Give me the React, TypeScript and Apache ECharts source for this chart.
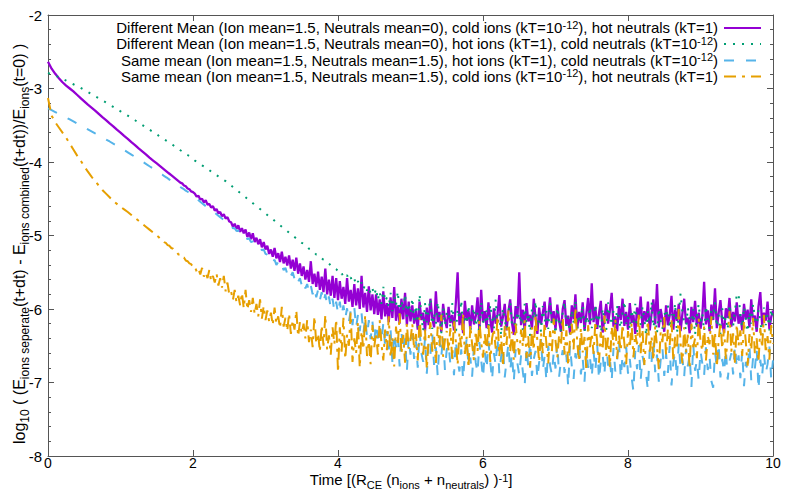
import React, { useEffect, useRef } from "react";
import * as echarts from "echarts";

// ---- sampling of the stored values ----
const HEAD_STEP = 0.05; // x = 0 .. 1.5
const TAIL_START = 1.5;
const TAIL_STEP = 0.025; // x = 1.525 .. 10

const xTicks = [0, 2, 4, 6, 8, 10];
const yTicks = [-8, -7, -6, -5, -4, -3, -2];

const seriesNames = [
  "Different Mean (Ion mean=1.5, Neutrals mean=0), cold ions (kT=10^-12), hot neutrals (kT=1)",
  "Different Mean (Ion mean=1.5, Neutrals mean=0), hot ions (kT=1), cold neutrals (kT=10^-12)",
  "Same mean (Ion mean=1.5, Neutrals mean=1.5), hot ions (kT=1), cold neutrals (kT=10^-12)",
  "Same mean (Ion mean=1.5, Neutrals mean=1.5), cold ions (kT=10^-12), hot neutrals (kT=1)",
];

// Different mean, cold ions / hot neutrals (purple)
const purpleHead = [
  -2.635, -2.73, -2.8, -2.86, -2.915, -2.96, -3.0, -3.04, -3.085, -3.13,
  -3.175, -3.22, -3.26, -3.3, -3.345, -3.39, -3.43, -3.475, -3.515, -3.56,
  -3.6, -3.645, -3.685, -3.73, -3.77, -3.815, -3.855, -3.895, -3.94, -3.98,
  -4.02,
];
const purpleTail = [
  -4.04, -4.06, -4.08, -4.1, -4.12, -4.14, -4.16, -4.18, -4.2, -4.22, -4.24, -4.26, -4.28, -4.29, -4.32, -4.33, -4.36, -4.37, -4.4, -4.41,
  -4.43, -4.47, -4.46, -4.51, -4.5, -4.55, -4.52, -4.58, -4.57, -4.62, -4.6, -4.66, -4.64, -4.7, -4.68, -4.74, -4.71, -4.77, -4.75, -4.81,
  -4.82, -4.88, -4.84, -4.91, -4.86, -4.95, -4.9, -4.97, -4.92, -5.02, -4.96, -5.05, -4.97, -5.09, -5.03, -5.12, -5.05, -5.16, -5.09, -5.19,
  -5.14, -5.25, -5.19, -5.29, -5.17, -5.31, -5.24, -5.36, -5.22, -5.38, -5.29, -5.41, -5.27, -5.45, -5.33, -5.48, -5.3, -5.52, -5.38, -5.55,
  -5.42, -5.6, -5.47, -5.63, -5.35, -5.66, -5.52, -5.7, -5.49, -5.74, -5.56, -5.77, -5.45, -5.8, -5.6, -5.82, -5.55, -5.85, -5.58, -5.88,
  -5.62, -5.86, -5.7, -5.93, -5.58, -5.9, -5.74, -5.97, -5.66, -5.95, -5.72, -6.0, -5.55, -5.98, -5.78, -6.04, -5.69, -6.02, -5.8, -6.07,
  -5.8, -6.08, -5.87, -6.14, -5.76, -6.1, -5.92, -6.18, -5.84, -6.12, -5.7, -6.16, -5.95, -6.2, -5.86, -6.14, -5.78, -6.22, -5.9, -6.17,
  -5.95, -6.2, -6.02, -6.28, -5.9, -6.15, -6.05, -6.3, -5.98, -6.22, -5.86, -6.12, -6.25, -5.76, -6.18, -6.04, -6.31, -5.93, -6.14, -6.26,
  -5.97, -6.19, -6.08, -6.29, -5.92, -5.5, -6.22, -6.05, -6.33, -5.89, -6.16, -6.02, -6.27, -5.95, -6.21, -6.1, -5.84, -6.3, -5.74, -6.18,
  -6.03, -6.26, -5.91, -6.14, -6.32, -5.99, -6.2, -6.07, -5.81, -6.24, -6.11, -5.93, -6.29, -6.04, -5.87, -6.19, -6.35, -5.96, -6.13, -5.5,
  -6.22, -6.01, -6.3, -5.92, -6.17, -6.08, -6.27, -5.86, -6.12, -6.34, -5.98, -6.21, -6.05, -5.9, -6.25, -6.11, -5.84, -6.18, -6.03, -6.28,
  -5.94, -6.16, -6.31, -6.0, -5.88, -6.23, -6.09, -6.33, -5.95, -6.14, -5.8, -6.26, -6.04, -6.19, -5.91, -6.29, -6.07, -5.85, -6.21, -5.65,
  -6.18, -5.97, -6.27, -6.06, -5.89, -6.32, -6.12, -5.93, -6.2, -6.02, -5.78, -6.24, -6.1, -6.3, -5.96, -6.15, -5.86, -6.23, -6.04, -6.28,
  -5.92, -6.19, -6.08, -6.34, -5.98, -6.13, -5.83, -6.26, -6.03, -6.17, -5.9, -6.29, -6.06, -5.87, -6.21, -5.66, -6.25, -6.0, -6.14, -6.31,
  -5.95, -6.22, -6.09, -5.82, -6.28, -6.01, -6.16, -5.93, -6.3, -6.07, -5.86, -6.2, -6.12, -6.33, -5.97, -6.18, -5.89, -6.24, -6.05, -6.27,
  -6.1, -5.63, -6.21, -6.02, -6.3, -5.94, -6.15, -5.72, -6.26, -6.06, -5.88, -6.19, -6.32, -5.99, -6.12, -5.85, -6.24, -6.04, -6.17, -5.91,
  -6.2, -6.07, -6.29, -5.93, -6.14, -6.01, -6.25, -5.87, -6.18, -6.09, -6.31, -5.96, -5.77, -6.22, -6.05, -6.16, -5.9, -6.27, -6.11, -6.02,
];

// Different mean, hot ions / cold neutrals (green)
const greenHead = [
  -2.79, -2.805, -2.825, -2.845, -2.87, -2.892, -2.917, -2.942, -2.967, -2.992,
  -3.02, -3.048, -3.077, -3.105, -3.134, -3.163, -3.19, -3.22, -3.25, -3.28,
  -3.31, -3.34, -3.37, -3.4, -3.432, -3.464, -3.496, -3.528, -3.56, -3.592,
  -3.624,
];
const greenTail = [
  -3.64, -3.655, -3.67, -3.69, -3.705, -3.72, -3.74, -3.755, -3.77, -3.79, -3.805, -3.82, -3.84, -3.855, -3.87, -3.89, -3.905, -3.92, -3.94, -3.96,
  -3.98, -3.995, -4.01, -4.03, -4.045, -4.06, -4.08, -4.095, -4.11, -4.13, -4.145, -4.16, -4.18, -4.195, -4.21, -4.23, -4.245, -4.26, -4.28, -4.3,
  -4.32, -4.34, -4.36, -4.38, -4.4, -4.42, -4.44, -4.46, -4.48, -4.5, -4.52, -4.54, -4.56, -4.58, -4.6, -4.62, -4.64, -4.66, -4.68, -4.7,
  -4.72, -4.74, -4.76, -4.78, -4.8, -4.82, -4.84, -4.86, -4.88, -4.9, -4.92, -4.94, -4.96, -4.98, -5.0, -5.02, -5.04, -5.06, -5.08, -5.1,
  -5.11, -5.14, -5.15, -5.18, -5.19, -5.21, -5.23, -5.26, -5.26, -5.29, -5.31, -5.33, -5.34, -5.37, -5.38, -5.41, -5.42, -5.45, -5.46, -5.48,
  -5.47, -5.53, -5.52, -5.57, -5.54, -5.61, -5.57, -5.63, -5.59, -5.67, -5.62, -5.69, -5.64, -5.73, -5.67, -5.75, -5.7, -5.79, -5.72, -5.81,
  -5.72, -5.88, -5.76, -5.93, -5.7, -5.9, -5.84, -5.98, -5.78, -6.03, -5.82, -5.95, -5.76, -6.08, -5.88, -6.02, -5.8, -6.1, -5.92, -6.06,
  -5.85, -6.15, -5.95, -6.25, -5.8, -6.1, -6.3, -5.92, -6.18, -6.02, -5.86, -6.27, -6.06, -6.2, -5.9, -6.12, -6.33, -5.98, -6.22, -6.05,
  -6.03, -6.25, -5.92, -6.18, -6.35, -6.0, -6.14, -5.88, -6.28, -6.08, -6.2, -5.95, -6.32, -6.1, -5.98, -6.24, -6.05, -6.38, -5.9, -6.16,
  -6.22, -6.02, -6.3, -5.94, -6.12, -6.26, -5.87, -6.19, -6.06, -6.36, -5.99, -6.15, -6.28, -6.04, -5.91, -6.21, -6.1, -6.33, -5.97, -6.17,
  -6.08, -6.29, -5.93, -6.2, -6.05, -6.37, -6.0, -6.14, -5.89, -6.25, -6.11, -6.31, -5.96, -6.18, -6.03, -6.27, -5.92, -6.22, -6.09, -6.34,
  -5.98, -6.16, -6.3, -6.04, -5.9, -6.23, -6.12, -6.35, -6.01, -6.19, -5.88, -6.27, -6.07, -6.14, -5.95, -6.32, -6.09, -6.21, -5.97, -6.26,
  -6.13, -5.94, -6.24, -6.06, -6.38, -5.99, -6.17, -6.29, -5.91, -6.11, -6.22, -6.02, -6.34, -5.96, -6.15, -6.26, -6.05, -5.89, -6.2, -6.1,
  -6.28, -6.01, -6.18, -5.93, -6.31, -6.08, -6.22, -5.97, -6.14, -6.36, -6.03, -6.19, -5.9, -6.25, -6.1, -6.33, -5.99, -6.16, -6.27, -6.04,
  -6.12, -5.95, -6.26, -6.07, -6.2, -5.92, -6.33, -6.09, -5.79, -6.04, -6.18, -6.29, -5.98, -6.14, -6.24, -6.0, -6.35, -6.11, -5.93, -6.21,
  -6.06, -6.3, -5.96, -6.17, -6.27, -6.02, -6.13, -5.91, -6.24, -6.08, -6.34, -5.99, -6.19, -6.11, -6.28, -5.94, -6.15, -6.23, -6.03, -5.8,
  -5.79, -6.09, -6.25, -5.97, -6.14, -6.31, -6.04, -6.2, -5.93, -6.12, -6.27, -6.01, -6.17, -6.35, -5.98, -6.22, -6.07, -6.29, -6.0, -6.15,
];

// Same mean, hot ions / cold neutrals (blue)
const blueHead = [
  -3.27, -3.295, -3.32, -3.345, -3.37, -3.395, -3.42, -3.447, -3.474, -3.501,
  -3.528, -3.555, -3.582, -3.61, -3.637, -3.665, -3.693, -3.721, -3.75, -3.778,
  -3.808, -3.838, -3.868, -3.899, -3.93, -3.961, -3.993, -4.025, -4.058, -4.09,
  -4.123,
];
const blueTail = [
  -4.14, -4.155, -4.17, -4.19, -4.205, -4.22, -4.24, -4.255, -4.27, -4.29, -4.305, -4.32, -4.34, -4.355, -4.37, -4.39, -4.405, -4.42, -4.44, -4.46,
  -4.48, -4.5, -4.52, -4.54, -4.56, -4.58, -4.6, -4.62, -4.64, -4.66, -4.68, -4.69, -4.71, -4.73, -4.75, -4.77, -4.79, -4.81, -4.83, -4.85,
  -4.86, -4.9, -4.9, -4.94, -4.93, -4.98, -4.97, -5.01, -5.01, -5.05, -5.04, -5.09, -5.08, -5.12, -5.12, -5.16, -5.16, -5.2, -5.19, -5.25,
  -5.26, -5.31, -5.3, -5.36, -5.33, -5.4, -5.36, -5.43, -5.4, -5.47, -5.44, -5.52, -5.47, -5.55, -5.5, -5.59, -5.54, -5.63, -5.58, -5.68,
  -5.62, -5.72, -5.66, -5.77, -5.68, -5.8, -5.71, -5.84, -5.74, -5.88, -5.77, -5.91, -5.8, -5.95, -5.83, -5.99, -5.86, -6.03, -5.9, -6.06,
  -5.9, -6.08, -5.95, -6.13, -5.99, -6.18, -6.02, -6.22, -5.98, -6.25, -6.08, -6.3, -6.06, -6.34, -6.12, -6.38, -6.15, -6.41, -6.17, -6.44,
  -6.2, -6.4, -6.24, -6.45, -6.19, -6.5, -6.3, -6.55, -6.28, -6.72, -6.33, -6.52, -6.36, -6.78, -6.31, -6.58, -6.4, -6.85, -6.38, -6.62,
  -6.35, -6.68, -6.44, -6.8, -6.3, -6.6, -6.72, -6.4, -6.88, -6.47, -6.62, -6.33, -6.76, -6.52, -6.91, -6.42, -6.65, -6.36, -6.83, -6.55,
  -6.48, -6.75, -6.58, -6.9, -6.42, -6.7, -6.85, -6.55, -6.96, -6.62, -6.4, -6.78, -6.66, -6.92, -6.5, -6.73, -6.87, -6.45, -6.69, -6.94,
  -6.58, -6.82, -6.44, -6.71, -6.97, -6.6, -6.76, -6.39, -6.88, -6.65, -6.52, -6.93, -6.7, -6.47, -6.84, -6.61, -6.99, -6.55, -6.74, -6.9,
  -6.63, -6.86, -7.05, -6.52, -6.79, -6.45, -6.91, -6.68, -6.57, -6.95, -6.72, -6.41, -6.83, -6.64, -6.98, -6.5, -6.77, -6.89, -6.59, -6.81,
  -6.46, -6.92, -6.7, -6.56, -6.87, -6.62, -7.06, -6.49, -6.78, -6.95, -6.6, -6.73, -6.43, -6.89, -6.67, -6.99, -6.54, -6.8, -6.65, -6.93,
  -6.58, -6.84, -6.48, -6.96, -6.71, -6.61, -6.9, -6.45, -6.77, -6.66, -6.98, -6.53, -6.85, -6.69, -6.42, -6.94, -6.63, -6.79, -6.51, -6.88,
  -6.68, -6.93, -7.12, -6.57, -6.82, -6.49, -6.97, -6.64, -6.76, -6.9, -7.1, -6.55, -6.72, -6.44, -6.86, -6.62, -6.99, -6.7, -6.53, -6.91,
  -6.61, -6.87, -6.5, -7.04, -6.73, -6.59, -6.95, -6.46, -6.81, -6.67, -6.92, -6.54, -6.78, -6.63, -7.06, -6.48, -6.84, -6.7, -6.97, -6.57,
  -6.74, -6.9, -6.52, -6.83, -6.65, -6.98, -7.07, -6.58, -6.79, -6.47, -6.93, -6.68, -6.86, -6.55, -6.96, -6.71, -6.6, -6.89, -6.5, -6.8,
  -6.63, -6.94, -6.57, -7.05, -6.72, -6.85, -6.49, -6.97, -6.66, -6.81, -6.54, -7.1, -6.69, -6.91, -6.6, -6.87, -6.75, -6.51, -6.95, -6.7,
];

// Same mean, cold ions / hot neutrals (orange)
const orangeHead = [
  -3.13, -3.37, -3.46, -3.53, -3.6, -3.67, -3.75, -3.83, -3.91, -3.98,
  -4.06, -4.13, -4.2, -4.26, -4.32, -4.38, -4.43, -4.48, -4.53, -4.57,
  -4.61, -4.645, -4.68, -4.72, -4.76, -4.8, -4.84, -4.88, -4.92, -4.96,
  -5.0,
];
const orangeTail = [
  -5.02, -5.05, -5.06, -5.09, -5.1, -5.13, -5.14, -5.17, -5.18, -5.21, -5.22, -5.26, -5.26, -5.3, -5.3, -5.34, -5.35, -5.38, -5.39, -5.43,
  -5.42, -5.49, -5.45, -5.53, -5.44, -5.56, -5.5, -5.58, -5.47, -5.62, -5.55, -5.64, -5.52, -5.68, -5.58, -5.71, -5.55, -5.76, -5.64, -5.8,
  -5.76, -5.88, -5.74, -5.91, -5.82, -5.95, -5.78, -5.99, -5.74, -6.01, -5.88, -6.04, -5.85, -6.07, -5.93, -6.1, -5.87, -6.13, -5.96, -6.15,
  -6.02, -6.17, -6.05, -6.22, -5.98, -6.2, -6.1, -6.26, -5.97, -6.24, -6.12, -6.3, -6.06, -6.34, -6.15, -6.28, -6.02, -6.37, -6.18, -6.33,
  -6.2, -6.4, -6.15, -6.45, -6.28, -6.52, -6.1, -6.47, -6.33, -6.58, -6.22, -6.5, -6.08, -6.55, -6.36, -6.62, -6.25, -6.48, -6.14, -6.86,
  -6.25, -6.58, -6.12, -6.68, -6.35, -6.5, -6.05, -6.72, -6.4, -6.6, -6.18, -6.8, -6.3, -6.55, -6.08, -6.64, -6.44, -6.75, -6.22, -6.52,
  -6.32, -6.62, -6.15, -6.48, -6.7, -6.28, -6.56, -6.1, -6.66, -6.38, -6.78, -6.24, -6.5, -6.06, -6.61, -6.35, -6.73, -6.2, -6.54, -6.42,
  -6.2, -6.55, -6.34, -6.7, -6.12, -6.46, -6.62, -6.28, -6.82, -6.4, -6.18, -6.58, -6.36, -6.74, -6.24, -6.5, -6.08, -6.65, -6.42, -6.3,
  -6.57, -6.26, -6.68, -6.14, -6.44, -6.76, -6.32, -6.52, -6.06, -6.61, -6.38, -6.8, -6.22, -6.48, -6.7, -6.3, -6.58, -6.16, -6.45, -6.66,
  -6.34, -6.6, -6.18, -6.72, -6.4, -6.27, -6.54, -6.1, -6.64, -6.36, -6.78, -6.23, -6.49, -6.02, -6.59, -6.31, -6.69, -6.2, -6.47, -6.62,
  -6.28, -6.51, -6.15, -6.67, -6.37, -6.8, -6.25, -6.56, -6.08, -6.44, -6.72, -6.33, -6.6, -6.19, -6.48, -6.74, -6.3, -6.58, -6.13, -6.43,
  -6.66, -6.35, -6.5, -6.12, -6.62, -6.29, -6.77, -6.41, -6.2, -6.55, -5.98, -6.46, -6.71, -6.26, -6.59, -6.38, -6.84, -6.22, -6.52, -6.33,
  -6.61, -6.17, -6.45, -6.73, -6.31, -6.56, -6.09, -6.64, -6.39, -6.79, -6.24, -6.5, -6.14, -6.68, -6.36, -6.57, -6.21, -6.47, -6.75, -6.3,
  -6.53, -6.19, -6.66, -6.34, -6.48, -6.05, -6.6, -6.27, -6.76, -6.42, -6.16, -6.58, -6.37, -6.7, -6.23, -6.51, -6.82, -6.32, -6.45, -6.11,
  -6.63, -6.28, -6.49, -6.14, -6.71, -6.38, -6.55, -6.0, -6.46, -6.74, -6.25, -6.59, -6.35, -6.81, -6.2, -6.52, -6.4, -6.67, -6.13, -6.44,
  -6.57, -6.24, -6.7, -6.36, -6.48, -6.1, -6.62, -6.31, -6.79, -6.43, -6.18, -6.54, -6.27, -6.68, -6.39, -6.03, -6.58, -6.33, -6.73, -6.21,
  -6.5, -6.29, -6.64, -6.16, -6.45, -6.77, -6.34, -6.56, -6.12, -6.61, -6.4, -6.72, -6.26, -6.53, -6.08, -6.6, -6.37, -6.69, -6.22, -6.47,
];

const COLORS = ["#9400d3", "#009e73", "#56b4e9", "#e69f00"];
const DASHES: (number[] | "solid")[] = ["solid", [2, 7], [10, 12], [12, 6, 3, 6]];
const FONT = "'Liberation Sans', Arial, Helvetica, sans-serif";

function toPoints(head: number[], tail: number[]) {
  const pts: number[][] = [];
  head.forEach((y, i) => pts.push([+(i * HEAD_STEP).toFixed(3), y]));
  tail.forEach((y, i) => pts.push([+(TAIL_START + (i + 1) * TAIL_STEP).toFixed(3), y]));
  return pts;
}

// line box 16: main text sits low, superscript at the top
const legendRich = {
  n: { fontSize: 15, fontFamily: FONT, color: "#000", verticalAlign: "bottom", lineHeight: 14 },
  sup: { fontSize: 11, fontFamily: FONT, color: "#000", verticalAlign: "top", lineHeight: 10 },
  pad: { lineHeight: 16, fontSize: 1 },
};
// line box 18: main text near the top, subscripts at the bottom
const xTitleRich = {
  n: { fontSize: 15, fontFamily: FONT, color: "#000", verticalAlign: "top", lineHeight: 15 },
  sub: { fontSize: 11, fontFamily: FONT, color: "#000", verticalAlign: "bottom", lineHeight: 11 },
  sup: { fontSize: 11, fontFamily: FONT, color: "#000", verticalAlign: "top", lineHeight: 7 },
  pad: { lineHeight: 18, fontSize: 1 },
};
const yTitleRich = {
  n: { fontSize: 16, fontFamily: FONT, color: "#000", verticalAlign: "top", lineHeight: 16 },
  sub: { fontSize: 12, fontFamily: FONT, color: "#000", verticalAlign: "bottom", lineHeight: 12 },
  pad: { lineHeight: 20, fontSize: 1 },
};

function richLegend(name: string) {
  const parts = name.split("^-12");
  return "{pad| }" + parts.map((p) => `{n|${p}}`).join("{sup|-12}");
}

export default function App() {
  const ref = useRef<HTMLDivElement>(null);
  useEffect(() => {
    if (!ref.current) return;
    const chart = echarts.init(ref.current, undefined, { renderer: "svg" });
    const data = [
      toPoints(purpleHead, purpleTail),
      toPoints(greenHead, greenTail),
      toPoints(blueHead, blueTail),
      toPoints(orangeHead, orangeTail),
    ];
    const axisColor = "#555";
    const commonX = {
      type: "value",
      min: xTicks[0],
      max: xTicks[xTicks.length - 1],
      interval: 2,
      axisLine: { show: true, onZero: false, lineStyle: { color: axisColor, width: 1 } },
      axisTick: { show: true, inside: true, length: 6, lineStyle: { color: axisColor } },
      splitLine: { show: false },
    };
    const commonY = {
      type: "value",
      min: yTicks[0],
      max: yTicks[yTicks.length - 1],
      interval: 1,
      axisLine: { show: true, onZero: false, lineStyle: { color: axisColor, width: 1 } },
      axisTick: { show: true, inside: true, length: 6, lineStyle: { color: axisColor } },
      minorTick: { show: true, splitNumber: 5, length: 3, lineStyle: { color: axisColor } },
      splitLine: { show: false },
      minorSplitLine: { show: false },
    };
    const legendRows = [28, 44, 60.5, 76.5];
    const graphics: any[] = [];
    seriesNames.forEach((name, i) => {
      graphics.push({
        type: "text",
        x: 718,
        y: legendRows[i] - 1,
        style: { text: richLegend(name), rich: legendRich, align: "right", verticalAlign: "middle" },
      });
      graphics.push({
        type: "line",
        shape: { x1: 724, y1: legendRows[i], x2: 761, y2: legendRows[i] },
        style: {
          stroke: COLORS[i],
          lineWidth: 2,
          lineDash: DASHES[i] === "solid" ? null : (DASHES[i] as number[]),
        },
      });
    });
    graphics.push({
      type: "text",
      x: 411,
      y: 481,
      style: {
        text: "{pad| }{n|Time [(R}{sub|CE}{n| (n}{sub|ions}{n| + n}{sub|neutrals}{n|) )}{sup|-1}{n|]}",
        rich: xTitleRich,
        align: "center",
        verticalAlign: "middle",
      },
    });
    graphics.push({
      type: "text",
      x: 21,
      y: 244,
      rotation: Math.PI / 2,
      style: {
        text:
          "{pad| }{n|log}{sub|10}{n| ( (E}{sub|ions seperate}{n|(t+dt) - E}{sub|ions combined}{n|(t+dt))/E}{sub|ions}{n|(t=0) )}",
        rich: yTitleRich,
        align: "center",
        verticalAlign: "middle",
      },
    });

    chart.setOption({
      animation: false,
      backgroundColor: "#fff",
      grid: { left: 48, right: 13, top: 15, bottom: 34, containLabel: false },
      xAxis: [
        {
          ...commonX,
          position: "bottom",
          axisLabel: { show: true, fontSize: 14, lineHeight: 14, color: "#000", fontFamily: FONT, margin: 0 },
        },
        { ...commonX, position: "top", axisLabel: { show: false } },
      ],
      yAxis: [
        {
          ...commonY,
          position: "left",
          axisLabel: { show: true, fontSize: 15, color: "#000", fontFamily: FONT, margin: 6 },
        },
        { ...commonY, position: "right", axisLabel: { show: false } },
      ],
      series: data.map((d, i) => ({
        type: "line",
        name: seriesNames[i],
        data: d,
        xAxisIndex: 0,
        yAxisIndex: 0,
        symbol: "none",
        showSymbol: false,
        clip: true,
        silent: true,
        lineStyle: { color: COLORS[i], width: i === 0 ? 2.3 : 2, type: DASHES[i] },
      })),
      graphic: graphics,
    });
    return () => chart.dispose();
  }, []);
  return (
    <div
      ref={ref}
      style={{ position: "fixed", left: 0, top: 0, width: 786, height: 490, background: "#fff" }}
    />
  );
}
